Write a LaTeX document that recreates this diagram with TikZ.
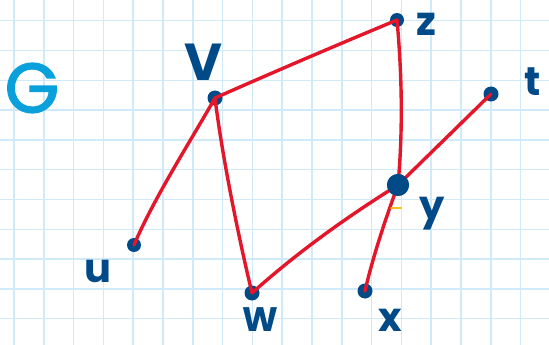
\documentclass[tikz,border=0pt]{standalone}
\usepackage{fontspec}
\setmainfont{Poppins}
\newfontfamily\gfont{Poppins}[FakeBold=2]
\definecolor{gridblue}{RGB}{208,234,250}
\definecolor{edgered}{RGB}{228,22,42}
\definecolor{navy}{RGB}{0,74,135}
\definecolor{gblue}{RGB}{10,160,220}
\definecolor{strayorange}{RGB}{255,190,20}
\tikzset{
  vdot/.style={circle,fill=navy,inner sep=0pt,minimum size=#1},
  vdot/.default=14pt,
  edge/.style={draw=edgered,line width=3.4pt,line cap=round},
  lab/.style={text=navy,inner sep=0pt,font=\fontsize{40}{40}\selectfont\bfseries},
}
\begin{document}
\begin{tikzpicture}[x=1pt,y=-1pt]
\useasboundingbox (0,0) rectangle (549,345);
\fill[white] (0,0) rectangle (549,345);
% grid
\foreach \i in {0,...,18} {
  \draw[gridblue,line width=1.5pt] ({14+29.8*\i},0) -- ({14+29.8*\i},345);
}
\foreach \j in {0,...,11} {
  \draw[gridblue,line width=1.5pt] (0,{20.7+29.8*\j}) -- (549,{20.7+29.8*\j});
}
% vertices
\node[vdot=15pt] (v) at (215,98) {};
\node[vdot=14pt] (z) at (397,20) {};
\node[vdot=15pt] (t) at (491,94) {};
\node[vdot=14pt] (u) at (134,245) {};
\node[vdot=15pt] (w) at (252,293) {};
\node[vdot=15pt] (x) at (365,291) {};
\node[vdot=22pt] (y) at (398,185) {};
% edges
\draw[edge] (v.center) .. controls (276,71) and (337,45) .. (z.center);
\draw[edge] (v.center) .. controls (190,142) and (154,198) .. (u.center);
\draw[edge] (v.center) .. controls (222,155) and (238,235) .. (w.center);
\draw[edge] (z.center) .. controls (402,75) and (403,130) .. (y.center);
\draw[edge] (y.center) -- (t.center);
\draw[edge] (y.center) .. controls (350,215) and (300,250) .. (w.center);
\draw[edge] (y.center) .. controls (385,220) and (372,260) .. (x.center);
\node[vdot=22pt] at (y) {};
% stray mark
\draw[strayorange,line width=2pt,line cap=round] (391,208) -- (401,208);
% labels
\node[text=gblue,inner sep=0pt,font=\fontsize{70}{70}\gfont] (G) at (32,88) {G};
\node[lab,font=\fontsize{52}{52}\selectfont\bfseries] (lv) at (203,62) {V};
\node[lab] (lz) at (426,24) {z};
\node[lab] (lt) at (533,82) {t};
\node[lab] (ly) at (432,214) {y};
\node[lab] (lx) at (390,320) {x};
\node[lab] (lu) at (98,271) {u};
\node[lab,anchor=base,font=\fontsize{34}{34}\selectfont\bfseries] (lw) at (260,331) {W};
\end{tikzpicture}
\end{document}
